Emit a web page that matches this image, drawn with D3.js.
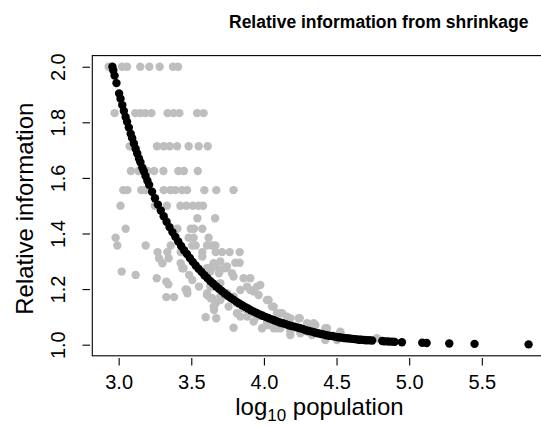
<!DOCTYPE html>
<html>
<head>
<meta charset="utf-8">
<script src="https://cdn.jsdelivr.net/npm/d3@7"></script>
<style>
  html, body { margin: 0; padding: 0; background: #ffffff; }
  svg { display: block; font-family: "Liberation Sans", Arial, Helvetica, sans-serif; }
</style>
</head>
<body>
<svg id="chart" width="541" height="430"></svg>
<script>
// ---------------- data ----------------
const titleText = "Relative information from shrinkage";
const yLabelText = "Relative information";
const xTicks = [3.0, 3.5, 4.0, 4.5, 5.0, 5.5];
const yTicks = [1.0, 1.2, 1.4, 1.6, 1.8, 2.0];
const xLimits = [2.8186, 5.946];
const yLimits = [0.96, 2.04];

// grey points (raw estimates): x = log10 population, y = relative information
const greyX = [
  2.931, 3.023, 3.058, 3.149, 3.211, 3.282, 3.374, 3.409,
  2.972, 3.115, 3.149, 3.184, 3.225, 3.337, 3.379, 3.418, 3.540, 3.585,
  3.076, 3.264, 3.310, 3.351, 3.402, 3.482, 3.551, 3.613,
  3.084, 3.136, 3.198, 3.244, 3.308, 3.411, 3.449, 3.545,
  3.032, 3.060, 3.156, 3.184, 3.310, 3.356, 3.390, 3.436, 3.471, 3.590, 3.672, 3.791,
  3.013, 3.249, 3.332, 3.425, 3.466, 3.511, 3.549, 3.581,
  3.542, 3.664,
  3.048, 3.404, 3.496, 3.519, 3.576,
  2.979, 3.482, 3.516, 3.619,
  2.991, 3.186, 3.358, 3.507, 3.530, 3.608, 3.643, 3.666,
  3.268, 3.335, 3.427, 3.576, 3.668, 3.712, 3.764, 3.833,
  3.278, 3.344, 3.301, 3.427, 3.021, 3.117, 3.262, 3.328, 3.342, 3.461,
  3.473, 3.328, 3.381, 3.438, 3.485, 3.507, 3.553, 3.599, 3.672, 3.610,
  3.633, 3.668, 3.657, 3.576, 3.645, 3.691, 3.447, 3.471, 3.791, 3.803,
  3.833, 3.608, 3.631, 3.654, 3.700, 3.746, 3.791, 3.860, 3.906, 3.953,
  3.929, 3.975, 3.884, 3.838, 3.791, 3.746, 3.700, 3.654, 4.021, 4.056,
  4.090, 3.987, 3.929, 3.884, 3.815, 3.757, 3.700, 3.654, 3.643, 3.987,
  4.067, 4.021, 3.884, 3.929, 3.838, 3.700, 3.666, 3.734, 3.780, 3.906,
  3.964, 4.032, 4.067, 4.113, 4.159, 4.239, 4.297, 4.354, 3.815, 3.700,
  3.631, 3.608, 3.860, 3.953, 4.021, 4.090, 4.182, 4.251, 4.331, 4.400,
  4.125, 4.182, 4.246, 4.331, 4.434, 4.526, 4.560, 4.251, 4.113, 4.182,
  4.297, 4.388, 4.480, 4.663, 4.778, 4.342, 4.423, 4.526, 4.503, 4.423
];
const greyY = [
  2.000, 2.000, 2.000, 2.000, 2.000, 2.000, 2.000, 2.000,
  1.833, 1.833, 1.833, 1.833, 1.833, 1.833, 1.833, 1.833, 1.833, 1.833,
  1.714, 1.714, 1.714, 1.714, 1.714, 1.714, 1.714, 1.714,
  1.625, 1.625, 1.625, 1.625, 1.625, 1.625, 1.625, 1.625,
  1.556, 1.556, 1.556, 1.556, 1.556, 1.556, 1.556, 1.556, 1.556, 1.556, 1.556, 1.556,
  1.500, 1.500, 1.500, 1.500, 1.500, 1.500, 1.500, 1.500,
  1.455, 1.455,
  1.417, 1.417, 1.417, 1.417, 1.417,
  1.385, 1.385, 1.385, 1.385,
  1.357, 1.357, 1.357, 1.357, 1.357, 1.357, 1.357, 1.357,
  1.333, 1.333, 1.333, 1.333, 1.333, 1.333, 1.333, 1.333,
  1.311, 1.311, 1.293, 1.293, 1.263, 1.251, 1.239, 1.227, 1.217, 1.199,
  1.185, 1.171, 1.171, 1.275, 1.251, 1.233, 1.209, 1.099, 1.095, 1.185,
  1.167, 1.149, 1.125, 1.317, 1.281, 1.257, 1.275, 1.197, 1.061, 1.295,
  1.295, 1.275, 1.263, 1.293, 1.269, 1.281, 1.245, 1.239, 1.239, 1.209,
  1.191, 1.215, 1.209, 1.197, 1.173, 1.185, 1.221, 1.209, 1.161, 1.137,
  1.113, 1.107, 1.113, 1.125, 1.113, 1.137, 1.161, 1.137, 1.167, 1.059,
  1.059, 1.071, 1.101, 1.083, 1.101, 1.299, 1.281, 1.275, 1.257, 1.197,
  1.179, 1.161, 1.137, 1.113, 1.101, 1.095, 1.077, 1.071, 1.149, 1.173,
  1.209, 1.179, 1.131, 1.101, 1.077, 1.059, 1.047, 1.041, 1.035, 1.035,
  1.113, 1.095, 1.095, 1.071, 1.059, 1.041, 1.023, 1.059, 1.059, 1.035,
  1.047, 1.041, 1.029, 1.017, 1.023, 1.077, 1.059, 1.047, 1.017, 1.017
];

// black points (shrunk estimates)
const blackX = [
  2.957, 2.963, 2.972, 2.985, 3.003, 3.013, 3.025, 3.036, 3.048, 3.058,
  3.070, 3.083, 3.093, 3.105, 3.117, 3.128, 3.140, 3.150, 3.163, 3.173,
  3.185, 3.198,
  3.21, 3.23, 3.25, 3.27, 3.29, 3.31, 3.33, 3.35, 3.37, 3.39,
  3.41, 3.43, 3.45, 3.47, 3.49, 3.51, 3.53, 3.55, 3.57, 3.59,
  3.61, 3.63, 3.65, 3.67, 3.69, 3.71, 3.73, 3.75, 3.77, 3.79,
  3.81, 3.83, 3.85, 3.87, 3.89, 3.91, 3.93, 3.95, 3.97, 3.99,
  4.01, 4.03, 4.05, 4.07, 4.09, 4.11, 4.13, 4.15, 4.17, 4.19,
  4.21, 4.23, 4.25, 4.27, 4.29, 4.31, 4.33, 4.35, 4.37, 4.39,
  4.41, 4.43, 4.45, 4.47, 4.49, 4.51, 4.53, 4.55, 4.57,
  4.59, 4.61, 4.625, 4.64, 4.655, 4.67, 4.69, 4.705, 4.725, 4.745,
  4.815, 4.83, 4.85, 4.865, 4.885, 4.90, 4.95,
  5.09, 5.12, 5.276, 5.45, 5.822
];
const blackY = [
  2.000, 1.987, 1.968, 1.941, 1.904, 1.885, 1.862, 1.841, 1.819, 1.802,
  1.781, 1.759, 1.743, 1.724, 1.705, 1.688, 1.670, 1.656, 1.637, 1.624,
  1.607, 1.590,
  1.575, 1.550, 1.527, 1.504, 1.483, 1.462, 1.442, 1.423, 1.405, 1.388,
  1.371, 1.355, 1.340, 1.326, 1.312, 1.298, 1.285, 1.273, 1.262, 1.250,
  1.240, 1.229, 1.220, 1.210, 1.201, 1.193, 1.184, 1.176, 1.169, 1.162,
  1.155, 1.148, 1.142, 1.136, 1.130, 1.124, 1.119, 1.114, 1.109, 1.104,
  1.100, 1.096, 1.092, 1.088, 1.084, 1.080, 1.077, 1.074, 1.070, 1.067,
  1.065, 1.062, 1.059, 1.056, 1.052, 1.049, 1.047, 1.044, 1.041, 1.039,
  1.037, 1.034, 1.032, 1.031, 1.029, 1.027, 1.026, 1.024, 1.023,
  1.022, 1.021, 1.020, 1.019, 1.018, 1.018, 1.017, 1.016, 1.016, 1.015,
  1.013, 1.012, 1.012, 1.011, 1.011, 1.010, 1.009,
  1.007, 1.006, 1.004, 1.003, 1.001
];

// ---------------- drawing ----------------
const svg = d3.select("#chart");
svg.append("rect").attr("width", 541).attr("height", 430).attr("fill", "#ffffff");

const x = d3.scaleLinear().domain(xLimits).range([92.3, 546.6]);
const y = d3.scaleLinear().domain(yLimits).range([355.8, 55.6]);

const plot = svg.append("g");

plot.append("g").selectAll("circle")
  .data(d3.zip(greyX, greyY))
  .join("circle")
  .attr("cx", d => x(d[0]))
  .attr("cy", d => y(d[1]))
  .attr("r", 4.2)
  .attr("fill", "#bebebe");

plot.append("g").selectAll("circle")
  .data(d3.zip(blackX, blackY))
  .join("circle")
  .attr("cx", d => x(d[0]))
  .attr("cy", d => y(d[1]))
  .attr("r", 4.2)
  .attr("fill", "#000000");

svg.append("rect")
  .attr("x", x(xLimits[0]))
  .attr("y", y(yLimits[1]))
  .attr("width", x(xLimits[1]) - x(xLimits[0]))
  .attr("height", y(yLimits[0]) - y(yLimits[1]))
  .attr("fill", "none")
  .attr("stroke", "#000")
  .attr("stroke-width", 1.1);

const xAxis = d3.axisBottom(x).tickValues(xTicks).tickSize(7.5).tickPadding(9)
  .tickFormat(d3.format(".1f"));
const gx = svg.append("g").attr("transform", "translate(0,358)").call(xAxis);
gx.select(".domain").remove();
gx.selectAll(".tick line").attr("stroke", "#000").attr("stroke-width", 1.1);
gx.selectAll(".tick text").attr("font-size", 20).attr("fill", "#000")
  .attr("font-family", "'Liberation Sans', Arial, sans-serif");

const yAxis = d3.axisLeft(y).tickValues(yTicks).tickSize(7.5).tickPadding(0)
  .tickFormat(d3.format(".1f"));
const gy = svg.append("g").attr("transform", "translate(90,0)").call(yAxis);
gy.select(".domain").remove();
gy.selectAll(".tick line").attr("stroke", "#000").attr("stroke-width", 1.1);
gy.selectAll(".tick text")
  .attr("font-size", 20).attr("fill", "#000")
  .attr("font-family", "'Liberation Sans', Arial, sans-serif")
  .attr("x", null).attr("dy", null)
  .attr("text-anchor", "middle")
  .attr("transform", "translate(-25,0) rotate(-90)");

const cx = (x(xLimits[0]) + x(xLimits[1])) / 2;
svg.append("text")
  .attr("x", 229).attr("y", 28)
  .attr("text-anchor", "start")
  .attr("font-weight", "bold")
  .attr("font-size", 17.5)
  .text(titleText);

const xl = svg.append("text")
  .attr("x", cx).attr("y", 415)
  .attr("text-anchor", "middle")
  .attr("font-size", 24);
xl.append("tspan").text("log");
xl.append("tspan").attr("font-size", 17).attr("dy", 6).text("10");
xl.append("tspan").attr("dy", -6).text(" population");

svg.append("text")
  .attr("transform", `translate(33,${(y(yLimits[0]) + y(yLimits[1])) / 2 + 3}) rotate(-90)`)
  .attr("text-anchor", "middle")
  .attr("font-size", 24)
  .text(yLabelText);
</script>
</body>
</html>
